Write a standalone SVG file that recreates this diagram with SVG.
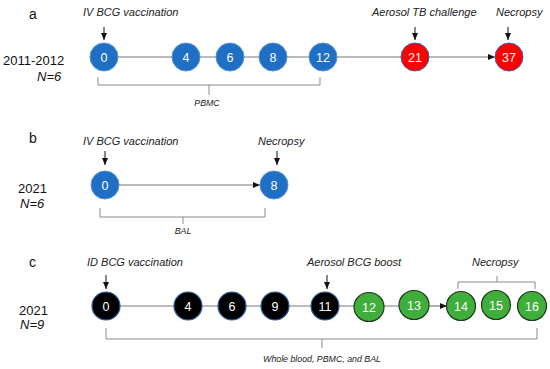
<svg xmlns="http://www.w3.org/2000/svg" width="550" height="369" viewBox="0 0 550 369">
<style>
.lbl{font-family:"Liberation Sans",Arial,sans-serif;font-style:italic;font-size:11px;fill:#222}
.pl{font-family:"Liberation Sans",Arial,sans-serif;font-size:14px;fill:#111}
.yr{font-family:"Liberation Sans",Arial,sans-serif;font-size:13px;fill:#111}
.n{font-family:"Liberation Sans",Arial,sans-serif;font-style:italic;font-size:13px;fill:#111}
.sm{font-family:"Liberation Sans",Arial,sans-serif;font-style:italic;font-size:8.8px;fill:#222}
.num{font-family:"Liberation Sans",Arial,sans-serif;font-size:12.5px;fill:#fff;text-anchor:middle}
.blue{fill:#1f6fc4;stroke:#5b8fd0;stroke-width:1}
.red{fill:#ff0000;stroke:#3b64b5;stroke-width:1}
.blk{fill:#000;stroke:#2f5ea8;stroke-width:1.2}
.grn{fill:#3fae3a;stroke:#1c3a1c;stroke-width:1.2}
.tl{stroke:#7a7a7a;stroke-width:1.2;fill:none}
.ar{stroke:#111;stroke-width:1;fill:none}
.br{stroke:#8a8a8a;stroke-width:1;fill:none}
</style>
<defs>
<marker id="ah" markerUnits="userSpaceOnUse" markerWidth="7" markerHeight="6" refX="7" refY="3" orient="auto">
<path d="M0,0 L7,3 L0,6 z" fill="#111"/>
</marker>
</defs>
<rect width="550" height="369" fill="#fff"/>

<g id="labels">
<text class="pl" x="29" y="19">a</text>
<text class="yr" x="3" y="65">2011-2012</text>
<text class="n" x="37" y="81">N=6</text>
<text class="lbl" x="83" y="16">IV BCG vaccination</text>
<text class="lbl" x="372" y="16">Aerosol TB challenge</text>
<text class="lbl" x="496" y="16">Necropsy</text>
<text class="sm" x="207" y="106" text-anchor="middle">PBMC</text>

<text class="pl" x="29" y="143">b</text>
<text class="yr" x="18" y="193">2021</text>
<text class="n" x="20" y="208">N=6</text>
<text class="lbl" x="83" y="145">IV BCG vaccination</text>
<text class="lbl" x="258" y="145">Necropsy</text>
<text class="sm" x="183" y="234" text-anchor="middle">BAL</text>

<text class="pl" x="29" y="267">c</text>
<text class="yr" x="19" y="315">2021</text>
<text class="n" x="20" y="329">N=9</text>
<text class="lbl" x="87" y="266">ID BCG vaccination</text>
<text class="lbl" x="307" y="266">Aerosol BCG boost</text>
<text class="lbl" x="472" y="266">Necropsy</text>
<text class="sm" x="322" y="362" text-anchor="middle">Whole blood, PBMC, and BAL</text>
</g>

<g id="connectors">
<line class="tl" x1="118" y1="57" x2="401" y2="57"/>
<line class="tl" x1="429" y1="57" x2="495" y2="57" marker-end="url(#ah)"/>
<line class="ar" x1="104" y1="27" x2="104" y2="40" marker-end="url(#ah)"/>
<line class="ar" x1="415" y1="27" x2="415" y2="40" marker-end="url(#ah)"/>
<line class="ar" x1="508" y1="27" x2="508" y2="40" marker-end="url(#ah)"/>
<path class="br" d="M98,77 V85 H320 V77 M209,85 V95"/>

<line class="tl" x1="119" y1="185" x2="260" y2="185" marker-end="url(#ah)"/>
<line class="ar" x1="105" y1="151" x2="105" y2="165" marker-end="url(#ah)"/>
<line class="ar" x1="277" y1="151" x2="277" y2="165" marker-end="url(#ah)"/>
<path class="br" d="M100,208 V217 H265 V208 M183,217 V224"/>

<line class="tl" x1="120" y1="306" x2="399" y2="306"/>
<line class="tl" x1="429" y1="306" x2="447" y2="306" marker-end="url(#ah)"/>
<line class="ar" x1="106" y1="275" x2="106" y2="289" marker-end="url(#ah)"/>
<line class="ar" x1="327" y1="275" x2="327" y2="289" marker-end="url(#ah)"/>
<path class="br" d="M106,328 V339 H537 V328 M322,339 V348"/>
<path class="br" d="M458,289 V282 H535 V289 M497,282 V276"/>
</g>

<g id="node-a0"><ellipse class="blue" cx="104" cy="57" rx="14" ry="14"/><text class="num" x="104" y="61.5">0</text></g>
<g id="node-a4"><ellipse class="blue" cx="186" cy="57" rx="14" ry="14"/><text class="num" x="186" y="61.5">4</text></g>
<g id="node-a6"><ellipse class="blue" cx="230" cy="57" rx="14" ry="14"/><text class="num" x="230" y="61.5">6</text></g>
<g id="node-a8"><ellipse class="blue" cx="273" cy="57" rx="14" ry="14"/><text class="num" x="273" y="61.5">8</text></g>
<g id="node-a12"><ellipse class="blue" cx="323" cy="57" rx="14" ry="14"/><text class="num" x="323" y="61.5">12</text></g>
<g id="node-a21"><ellipse class="red" cx="415" cy="57" rx="14" ry="14"/><text class="num" x="415" y="61.5">21</text></g>
<g id="node-a37"><ellipse class="red" cx="509" cy="57" rx="14" ry="14"/><text class="num" x="509" y="61.5">37</text></g>

<g id="node-b0"><ellipse class="blue" cx="105" cy="185" rx="14" ry="14"/><text class="num" x="105" y="189.5">0</text></g>
<g id="node-b8"><ellipse class="blue" cx="274" cy="185" rx="14" ry="14"/><text class="num" x="274" y="189.5">8</text></g>

<g id="node-c0"><ellipse class="blk" cx="106" cy="306" rx="14" ry="14"/><text class="num" x="106" y="310.5">0</text></g>
<g id="node-c4"><ellipse class="blk" cx="188" cy="306" rx="14" ry="14"/><text class="num" x="188" y="310.5">4</text></g>
<g id="node-c6"><ellipse class="blk" cx="232" cy="306" rx="14" ry="14"/><text class="num" x="232" y="310.5">6</text></g>
<g id="node-c9"><ellipse class="blk" cx="275" cy="306" rx="14" ry="14"/><text class="num" x="275" y="310.5">9</text></g>
<g id="node-c11"><ellipse class="blk" cx="325" cy="306" rx="14" ry="14"/><text class="num" x="325" y="310.5">11</text></g>
<g id="node-c12"><ellipse class="grn" cx="369" cy="307" rx="15" ry="14.5"/><text class="num" x="369" y="311.5">12</text></g>
<g id="node-c13"><ellipse class="grn" cx="414" cy="305" rx="15" ry="14.5"/><text class="num" x="414" y="309.5">13</text></g>
<g id="node-c14"><ellipse class="grn" cx="461" cy="306" rx="14.5" ry="14.5"/><text class="num" x="461" y="310.5">14</text></g>
<g id="node-c15"><ellipse class="grn" cx="496" cy="305" rx="14.5" ry="14.5"/><text class="num" x="496" y="309.5">15</text></g>
<g id="node-c16"><ellipse class="grn" cx="532" cy="306" rx="14.5" ry="14.5"/><text class="num" x="532" y="310.5">16</text></g>
</svg>
